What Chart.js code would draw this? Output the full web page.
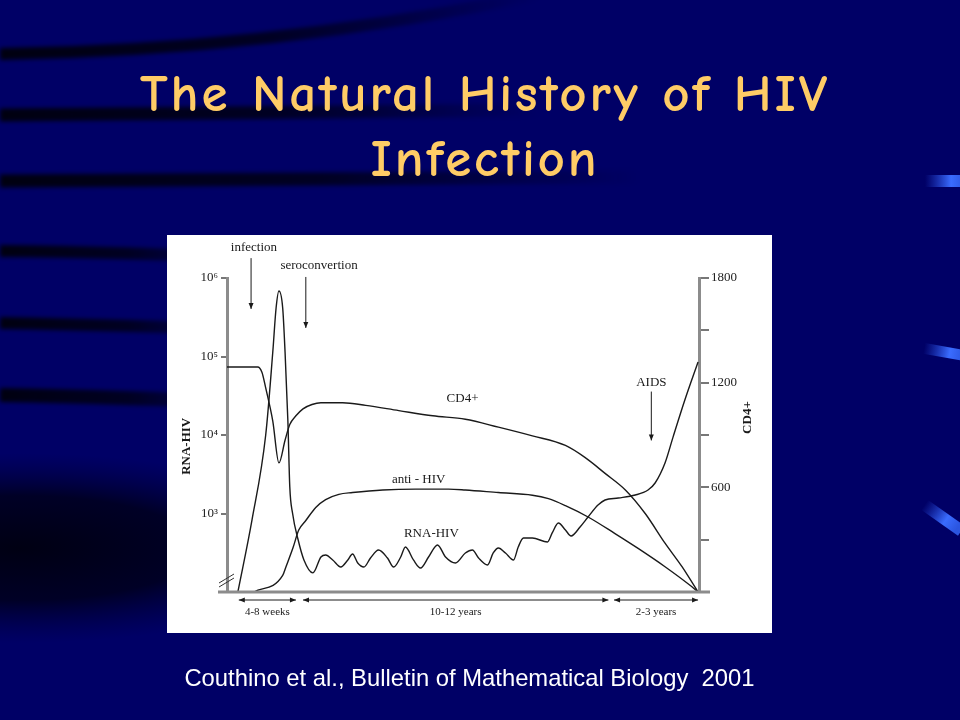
<!DOCTYPE html>
<html>
<head>
<meta charset="utf-8">
<title>The Natural History of HIV Infection</title>
<script src="https://cdn.jsdelivr.net/npm/chart.js@4.4.1/dist/chart.umd.min.js"></script>
<style>
  html, body { margin: 0; padding: 0; width: 960px; height: 720px; overflow: hidden; background: #000066; }
  #bg { position: absolute; left: 0; top: 0; }
  .title {
    position: absolute; left: 0; top: 61px; width: 970px;
    text-align: center; color: #ffcc66;
    font-family: "Comic Sans MS", "Comic Neue", Lato, sans-serif;
    font-size: 53px; line-height: 65px; font-weight: bold; letter-spacing: 2.8px;
  }
  .panel { position: absolute; left: 167px; top: 235px; width: 605px; height: 398px; background: #fff; }
  .cite {
    position: absolute; left: 0; top: 664px; width: 939px;
    text-align: center; color: #fff; white-space: pre;
    font-family: Arial, "Liberation Sans", sans-serif; font-size: 23.8px; line-height: 28px;
  }
</style>
</head>
<body>
<canvas id="bg" width="960" height="720"></canvas>
<div class="title">The Natural History of HIV<br>Infection</div>
<div class="panel"><canvas id="hivChart" width="605" height="398"></canvas></div>
<div class="cite">Couthino et al., Bulletin of Mathematical Biology  2001</div>

<script>
// time axis is schematic: 0 = infection side, 100 = end of AIDS phase
const rnaTime = [2.3, 5.3, 8.2, 9.7, 10.4, 11.0, 11.8, 12.3, 12.9, 13.3,
  13.9, 15.0, 16.3, 18.2, 19.9, 20.9, 22.4, 24.1, 25.6, 26.6,
  27.7, 29.0, 30.4, 32.1, 34.0, 35.3, 36.8, 37.8, 39.5, 41.0,
  42.7, 44.6, 46.3, 48.4, 50.5, 52.0, 53.3, 55.2, 56.4, 57.5,
  59.0, 60.7, 61.7, 62.8, 64.7, 67.9, 68.9, 70.2, 71.7, 72.9,
  74.8, 76.5, 78.6, 80.1, 82.9, 86.5, 89.2, 90.7, 92.8, 94.5,
  97.0, 99.8];
const rnaLoad = [100, 830, 10000, 114000, 415000, 683000, 415000, 114000, 15000, 2200,
  1000, 480, 256, 175, 279, 296, 256, 208, 256, 305,
  234, 208, 271, 343, 271, 208, 279, 374, 256, 202,
  279, 397, 279, 234, 314, 343, 271, 221, 314, 364,
  314, 256, 374, 487, 487, 434, 565, 757, 617, 517,
  673, 903, 1283, 1486, 1575, 1721, 1991, 2446, 4400, 9400,
  27900, 85000];

const cd4Time = [0, 6.5, 7.4, 8.2, 9.7, 11.0, 12.3, 13.3, 14.6, 16.1,
  18.0, 19.9, 24.5, 29.4, 36.4, 43.6, 50.5, 57.5, 64.7, 71.7,
  75.9, 80.1, 84.4, 88.6, 92.8, 96.4, 99.8];
const cd4Count = [1290, 1290, 1260, 1170, 980, 740, 870, 960, 1010, 1050,
  1075, 1085, 1085, 1070, 1040, 1010, 990, 945, 895, 840,
  770, 680, 585, 450, 280, 145, 0];

const abTime = [5.7, 11.8, 12.5, 14.0, 15.2, 16.7, 18.8, 20.9, 23.7, 26.6,
  33.0, 40.0, 46.9, 50.5, 57.5, 64.7, 68.1, 71.7, 76.5, 82.2,
  87.1, 92.8, 98.5, 99.8];
const abLevel = [0, 95, 145, 255, 355, 410, 485, 530, 560, 570,
  585, 590, 590, 585, 570, 555, 535, 495, 430, 335,
  250, 145, 30, 0];

const rnaTicks = [1e3, 1e4, 1e5, 1e6];
const rnaTickLabels = ['10³', '10⁴', '10⁵', '10⁶'];
const cd4Ticks = [0, 300, 600, 900, 1200, 1500, 1800];
const cd4TickLabels = ['', '', '600', '', '1200', '', '1800'];

const phaseLabels = ['4-8 weeks', '10-12 years', '2-3 years'];
const phaseStart = [2.5, 16.1, 82.0];
const phaseEnd = [14.6, 80.8, 99.8];

const serif = '"Liberation Serif", "Times New Roman", serif';
const ink = '#1a1a1a';

function pairs(xs, ys) {
  return xs.map((x, i) => ({ x: x, y: ys[i] }));
}

// slide backdrop: navy with dark streaks and blue tabs on the right
function paintBackdrop() {
  const g = document.getElementById('bg').getContext('2d');
  g.fillStyle = '#000066';
  g.fillRect(0, 0, 960, 720);

  g.save();
  g.translate(20, 548);
  g.scale(3.4, 1);
  const r = g.createRadialGradient(0, 0, 0, 0, 0, 95);
  r.addColorStop(0, 'rgba(0,0,16,0.97)');
  r.addColorStop(0.55, 'rgba(0,0,22,0.8)');
  r.addColorStop(1, 'rgba(0,0,60,0)');
  g.fillStyle = r;
  g.beginPath(); g.arc(0, 0, 95, 0, Math.PI * 2); g.fill();
  g.restore();

  const streaks = [
    [0, 54, 280, 50, 540, -6, 12],
    [0, 115, 260, 113, 540, 110, 13],
    [0, 181, 300, 180, 640, 177, 13],
    [0, 251, 120, 252, 260, 258, 12],
    [0, 323, 120, 325, 260, 330, 12],
    [0, 395, 120, 397, 260, 403, 14]
  ];
  g.filter = 'blur(2px)';
  for (const [x0, y0, cx, cy, x1, y1, w] of streaks) {
    const lg = g.createLinearGradient(x0, 0, x1, 0);
    lg.addColorStop(0, 'rgba(0,0,12,0.95)');
    lg.addColorStop(0.5, 'rgba(0,0,12,0.75)');
    lg.addColorStop(1, 'rgba(0,0,12,0)');
    g.strokeStyle = lg;
    g.lineWidth = w;
    g.beginPath(); g.moveTo(x0, y0); g.quadraticCurveTo(cx, cy, x1, y1); g.stroke();
  }
  g.filter = 'none';

  const tabs = [[925, 175, 0, 12], [925, 343, 10, 11], [928, 500, 35, 12]];
  for (const [x, y, deg, h] of tabs) {
    g.save();
    g.translate(x, y);
    g.rotate(deg * Math.PI / 180);
    const tg = g.createLinearGradient(0, 0, 40, 0);
    tg.addColorStop(0, 'rgba(40,80,230,0)');
    tg.addColorStop(0.65, '#3a6cff');
    tg.addColorStop(1, '#2b55e0');
    g.fillStyle = tg;
    g.fillRect(0, 0, 45, h);
    g.restore();
  }
}
paintBackdrop();

function arrowHead(ctx, x, y, dx, dy) {
  const len = 6, half = 2.5;
  ctx.beginPath();
  ctx.moveTo(x, y);
  ctx.lineTo(x - dx * len - dy * half, y - dy * len + dx * half);
  ctx.lineTo(x - dx * len + dy * half, y - dy * len - dx * half);
  ctx.closePath();
  ctx.fill();
}

// labels, arrows, axis break and time-span arrows
const figureMarks = {
  id: 'figureMarks',
  afterDraw(chart) {
    const { ctx, chartArea: a, scales } = chart;
    const xs = scales.x, ys = scales.y1;
    ctx.save();

    ctx.strokeStyle = '#8c8c8c';
    ctx.lineWidth = 3;
    ctx.beginPath(); ctx.moveTo(a.left - 9, a.bottom); ctx.lineTo(a.right + 11, a.bottom); ctx.stroke();

    ctx.strokeStyle = '#333';
    ctx.lineWidth = 1;
    for (const d of [0, 4]) {
      ctx.beginPath();
      ctx.moveTo(a.left - 8, a.bottom - 5 - d);
      ctx.lineTo(a.left + 7, a.bottom - 14 - d);
      ctx.stroke();
    }

    ctx.fillStyle = ink;
    ctx.strokeStyle = ink;
    ctx.textAlign = 'center';
    ctx.textBaseline = 'middle';
    ctx.font = '13px ' + serif;
    const notes = [
      ['infection', 5.7, 1977], ['seroconvertion', 19.5, 1874], ['CD4+', 49.9, 1109],
      ['anti - HIV', 40.6, 646], ['RNA-HIV', 43.3, 337], ['AIDS', 89.9, 1200]
    ];
    for (const [txt, t, v] of notes) ctx.fillText(txt, xs.getPixelForValue(t), ys.getPixelForValue(v));

    const pointers = [[5.1, 1914, 1623], [16.7, 1806, 1514], [89.9, 1149, 869]];
    ctx.lineWidth = 1;
    for (const [t, v0, v1] of pointers) {
      const px = xs.getPixelForValue(t), y0 = ys.getPixelForValue(v0), y1 = ys.getPixelForValue(v1);
      ctx.beginPath(); ctx.moveTo(px, y0); ctx.lineTo(px, y1); ctx.stroke();
      arrowHead(ctx, px, y1, 0, 1);
    }

    const ay = a.bottom + 8;
    ctx.font = '11px ' + serif;
    phaseLabels.forEach((lab, i) => {
      const x0 = xs.getPixelForValue(phaseStart[i]), x1 = xs.getPixelForValue(phaseEnd[i]);
      ctx.beginPath(); ctx.moveTo(x0, ay); ctx.lineTo(x1, ay); ctx.stroke();
      arrowHead(ctx, x0, ay, -1, 0);
      arrowHead(ctx, x1, ay, 1, 0);
      ctx.fillText(lab, (x0 + x1) / 2, a.bottom + 20);
    });

    ctx.font = 'bold 13px ' + serif;
    ctx.translate(a.left - 40, ys.getPixelForValue(835));
    ctx.rotate(-Math.PI / 2);
    ctx.fillText('RNA-HIV', 0, 0);
    ctx.setTransform(1, 0, 0, 1, 0, 0);
    ctx.translate(a.right + 49, ys.getPixelForValue(1000));
    ctx.rotate(-Math.PI / 2);
    ctx.fillText('CD4+', 0, 0);
    ctx.restore();
  }
};

const line = {
  borderColor: ink,
  borderWidth: 1.4,
  pointRadius: 0,
  fill: false,
  cubicInterpolationMode: 'monotone'
};

new Chart(document.getElementById('hivChart'), {
  type: 'line',
  data: {
    datasets: [
      Object.assign({ label: 'RNA-HIV', data: pairs(rnaTime, rnaLoad), yAxisID: 'y' }, line),
      Object.assign({ label: 'CD4+', data: pairs(cd4Time, cd4Count), yAxisID: 'y1' }, line),
      Object.assign({ label: 'anti-HIV', data: pairs(abTime, abLevel), yAxisID: 'y2' }, line)
    ]
  },
  options: {
    responsive: false,
    animation: false,
    layout: { padding: { top: 43, bottom: 41, left: 0, right: 0 } },
    plugins: { legend: { display: false }, tooltip: { enabled: false } },
    scales: {
      x: { type: 'linear', min: 0, max: 100, display: false },
      y: {
        type: 'logarithmic',
        position: 'left',
        min: 100,
        max: 1e6,
        afterBuildTicks: s => { s.ticks = rnaTicks.map(v => ({ value: v })); },
        afterFit: s => { s.width = 60; },
        border: { color: '#8c8c8c', width: 3 },
        grid: { drawOnChartArea: false, tickLength: 6, color: '#777', lineWidth: 2 },
        ticks: {
          padding: 3,
          color: '#222',
          font: { family: serif, size: 13 },
          callback: (v, i) => rnaTickLabels[i]
        }
      },
      y1: {
        type: 'linear',
        position: 'right',
        min: 0,
        max: 1800,
        afterBuildTicks: s => { s.ticks = cd4Ticks.map(v => ({ value: v })); },
        afterFit: s => { s.width = 73; },
        border: { color: '#8c8c8c', width: 3 },
        grid: { drawOnChartArea: false, tickLength: 10, color: '#777', lineWidth: 2 },
        ticks: {
          padding: 2,
          color: '#222',
          font: { family: serif, size: 13 },
          callback: (v, i) => cd4TickLabels[i]
        }
      },
      y2: { type: 'linear', min: 0, max: 1800, display: false }
    }
  },
  plugins: [figureMarks]
});
</script>
</body>
</html>
